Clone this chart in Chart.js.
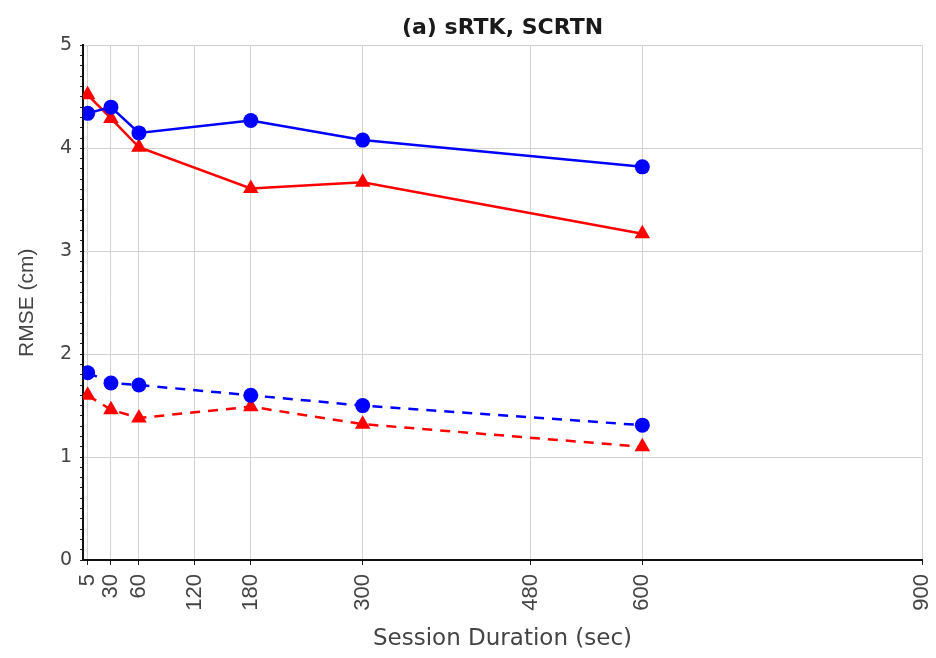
<!DOCTYPE html>
<html>
<head>
<meta charset="utf-8">
<title>sRTK, SCRTN</title>
<script src="https://cdn.jsdelivr.net/npm/chart.js@4/dist/chart.umd.min.js"></script>
<style>
  html, body { margin: 0; padding: 0; background: #fff; }
  #wrap { width: 936px; height: 658px; }
</style>
</head>
<body>
<div id="wrap"><canvas id="rmse-chart"></canvas></div>
<script>
// session lengths (sec) and RMSE (cm)
const durations = [5, 30, 60, 180, 300, 600];
const xTickValues = [5, 30, 60, 120, 180, 300, 480, 600, 900];
const blueSolid = [4.34, 4.40, 4.15, 4.27, 4.08, 3.82];
const redSolid = [4.52, 4.29, 4.01, 3.61, 3.67, 3.17];
const blueDashed = [1.82, 1.72, 1.70, 1.60, 1.50, 1.31];
const redDashed = [1.60, 1.46, 1.38, 1.49, 1.32, 1.10];

(function () {
    const canvas = document.getElementById('rmse-chart');
    if (!canvas || typeof Chart === 'undefined') return;

    const BLUE = '#0000ff';
    const RED = '#ff0000';
    const GRID = '#d2d2d2';
    const toPoints = (vals) => durations.map((d, i) => ({ x: d, y: vals[i] }));
    const isWhole = (v) => Math.abs(v - Math.round(v)) < 1e-6;

    const series = (vals, color, style, dashed) => ({
        data: toPoints(vals),
        borderColor: color,
        backgroundColor: color,
        borderWidth: 2.5,
        borderDash: dashed ? [10, 8] : [],
        pointStyle: style,
        pointRadius: style === 'triangle' ? 9 : 7.5,
        pointBorderWidth: 0,
        tension: 0,
    });

    new Chart(canvas, {
        type: 'line',
        data: {
            datasets: [
                series(blueDashed, BLUE, 'circle', true),
                series(redDashed, RED, 'triangle', true),
                series(blueSolid, BLUE, 'circle', false),
                series(redSolid, RED, 'triangle', false),
            ],
        },
        options: {
            responsive: true,
            maintainAspectRatio: false,
            animation: false,
            layout: { padding: { left: 0, right: 14, top: 0, bottom: 0 } },
            plugins: {
                legend: { display: false },
                tooltip: { enabled: false },
                title: {
                    display: true,
                    fullSize: false,
                    text: '(a) sRTK, SCRTN',
                    color: '#1a1a1a',
                    font: { family: 'DejaVu Sans', size: 22, weight: 'bold' },
                    padding: { top: 15, bottom: 4 },
                },
            },
            scales: {
                x: {
                    type: 'linear',
                    min: 0,
                    max: 900,
                    afterBuildTicks: (scale) => {
                        scale.ticks = xTickValues.map((v) => ({ value: v }));
                    },
                    afterFit: (scale) => {
                        scale.height = 98;
                        scale.paddingLeft = 0;
                        scale.paddingRight = 0;
                    },
                    ticks: {
                        autoSkip: false,
                        minRotation: 90,
                        maxRotation: 90,
                        padding: 9,
                        color: '#444',
                        font: { family: 'Liberation Sans', size: 22 },
                        callback: (v) => String(v),
                    },
                    grid: {
                        color: GRID,
                        lineWidth: 1,
                        tickColor: '#222',
                        tickLength: 5,
                    },
                    border: { color: '#111', width: 2 },
                    title: {
                        display: true,
                        text: 'Session Duration (sec)',
                        color: '#444',
                        font: { family: 'DejaVu Sans', size: 23 },
                        padding: { top: 0, bottom: 5 },
                    },
                },
                y: {
                    min: 0,
                    max: 5,
                    afterBuildTicks: (scale) => {
                        const t = [];
                        for (let i = 0; i <= 50; i++) t.push({ value: i / 10 });
                        scale.ticks = t;
                    },
                    afterFit: (scale) => { scale.width = 83; },
                    ticks: {
                        autoSkip: false,
                        padding: 8,
                        color: '#444',
                        font: { family: 'DejaVu Sans', size: 19 },
                        callback: (v) => (isWhole(v) ? String(Math.round(v)) : ''),
                    },
                    grid: {
                        color: (ctx) => (ctx.tick && isWhole(ctx.tick.value) ? GRID : 'rgba(0,0,0,0)'),
                        lineWidth: 1,
                        tickColor: '#222',
                        tickLength: (ctx) => (ctx.tick && isWhole(ctx.tick.value) ? 5 : 3),
                    },
                    border: { color: '#111', width: 2 },
                    title: {
                        display: true,
                        text: 'RMSE (cm)',
                        color: '#444',
                        font: { family: 'Liberation Sans', size: 21 },
                        padding: { top: 15, bottom: 0 },
                    },
                },
            },
        },
    });
})();
</script>
</body>
</html>
